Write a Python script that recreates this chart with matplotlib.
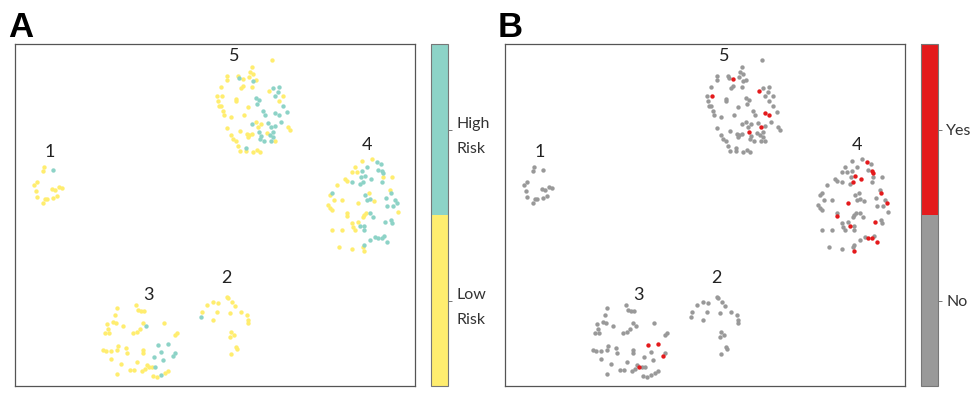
import numpy as np
import matplotlib.pyplot as plt
from matplotlib.colors import ListedColormap, Normalize
from matplotlib.cm import ScalarMappable

# t-SNE coordinates per cluster (y axis runs downward), risk group and event flag
c1_x = [44.3, 42.7, 53.3, 37.3, 34, 51.7, 55, 59.3, 62.3, 36, 37.3, 45, 47.3, 42.7, 52.7, 56.7]
c1_y = [167.3, 171, 170, 181.7, 185, 189.3, 190, 187.3, 188.3, 191, 196.7, 199, 199, 203.3, 197.7, 195.7]
c1_high = [0, 0, 1, 0, 0, 0, 0, 0, 0, 0, 0, 0, 0, 0, 0, 0]
c1_event = [0] * 16

c2_x = [226.7, 228.3, 212.7, 206.7, 218.3, 232.3, 235, 202.3, 201, 217.3, 230, 241,
        212.7, 247.3, 248.3, 247.7, 231, 234, 230, 236, 237.3, 230.7]
c2_y = [296.7, 298.3, 301.7, 305, 303.3, 302.3, 306, 311.7, 316.7, 311.7, 313.3, 311.7,
        320, 315, 320, 323.3, 332.3, 335, 337.3, 347.3, 349.3, 354]
c2_high = [0, 0, 0, 0, 0, 0, 0, 0, 1, 0, 0, 0, 0, 0, 0, 0, 0, 0, 0, 0, 0, 0]
c2_event = [0] * 22

c3_x = [117.3, 136, 137.7, 140.7, 144.3, 115, 113.3, 116, 106.7, 108.3,
        105, 109.3, 123.3, 143.3, 146, 140, 136.7, 133.3, 164, 177.3,
        175, 103.3, 106, 110.7, 118.3, 117.3, 126, 127.3, 143.3, 143.3,
        158.3, 167.7, 160.7, 175, 173.3, 154, 163.3, 110.7, 120.7, 136.7,
        146.7, 149.3, 145, 141.7, 130, 134.3, 155, 151.7, 117.3, 153.3,
        160.7, 165, 168.3, 156.7]
c3_y = [307.7, 305, 310, 310.7, 311, 315, 321.7, 323.3, 324.3, 329.3,
        332.7, 333.3, 325.7, 322.7, 325.7, 329.3, 331.7, 332.7, 322.7, 332.7,
        335, 350, 351, 350.7, 346, 350, 348.3, 352.7, 350, 352.7,
        345, 344, 351.7, 352.7, 356, 357.3, 360, 359, 364, 361.7,
        365, 367.3, 369.3, 370.7, 370, 370, 367.3, 366.7, 374, 376,
        375, 372.7, 370.7, 377.3]
c3_high = [0, 0, 0, 0, 0, 0, 0, 0, 0, 0,
           0, 0, 0, 0, 1, 0, 0, 0, 0, 0,
           0, 0, 0, 0, 0, 0, 0, 0, 0, 0,
           1, 1, 1, 1, 1, 1, 1, 0, 0, 0,
           0, 0, 0, 0, 0, 0, 1, 0, 0, 0,
           1, 0, 0, 0]
c3_event = [0, 0, 0, 0, 0, 0, 0, 0, 0, 0,
            0, 0, 0, 0, 0, 0, 0, 0, 0, 0,
            0, 0, 0, 0, 0, 0, 0, 0, 0, 0,
            1, 1, 0, 0, 1, 0, 0, 0, 0, 0,
            0, 1, 0, 0, 0, 0, 0, 0, 0, 0,
            0, 0, 0, 0]

c4_x = [361.7, 371.7, 376.7, 380.7, 378.3, 381.7, 383.3, 355, 351.7, 356.7,
        361.7, 367.3, 365, 360.7, 370.7, 363.3, 360, 382.7, 381.7, 391.7,
        345, 347.3, 351.7, 337.3, 390, 390.7, 369.3, 365, 331.7, 330,
        334, 341.7, 358.3, 367.3, 370, 374, 386, 395, 397.3, 387.3,
        392.7, 328.3, 330, 331.7, 398.3, 346.7, 346.7, 366, 364, 362.7,
        370, 373.3, 358.3, 351.7, 352.7, 355, 360, 364, 364, 385,
        390.7, 391.7, 331.7, 342.3, 375, 378.3, 381.7, 384, 370, 386.7,
        364, 362.7, 339.3, 351.7, 364]
c4_y = [160.7, 159.3, 162.3, 164.3, 170, 170.7, 172.7, 167.3, 171.7, 172.3,
        170.7, 167.3, 175.7, 176.7, 179, 182.3, 184, 177.3, 181.7, 176.7,
        179.3, 180.7, 181.7, 185, 190, 192.7, 193.3, 195, 192.7, 195,
        200, 200, 202.7, 200, 199.3, 200.7, 198.3, 200, 202.7, 206,
        206, 205, 208.3, 210, 211.7, 212.7, 216, 212.7, 215, 217.3,
        213.3, 217.3, 221.7, 223.3, 227.3, 230, 226, 225.7, 230, 221.7,
        220, 222.7, 230, 230, 237.3, 238.3, 238.3, 236, 240, 241.7,
        245, 247.3, 247.3, 249.3, 250.7]
c4_high = [0, 0, 1, 1, 1, 1, 1, 0, 0, 0,
           1, 1, 1, 1, 1, 1, 1, 0, 1, 0,
           0, 0, 1, 0, 0, 1, 0, 1, 1, 0,
           0, 0, 0, 1, 1, 0, 1, 1, 1, 1,
           1, 0, 0, 0, 0, 0, 0, 0, 0, 0,
           1, 1, 0, 0, 0, 0, 1, 1, 1, 1,
           1, 1, 0, 0, 1, 1, 1, 1, 1, 1,
           1, 0, 0, 0, 0]
c4_event = [0, 0, 1, 0, 0, 1, 1, 0, 0, 0,
            0, 0, 1, 0, 1, 1, 0, 0, 0, 0,
            0, 0, 0, 0, 0, 1, 0, 0, 0, 0,
            0, 0, 1, 0, 0, 0, 0, 0, 1, 0,
            0, 0, 0, 0, 0, 0, 1, 0, 0, 0,
            0, 0, 0, 0, 0, 0, 1, 0, 0, 1,
            0, 0, 0, 0, 0, 1, 1, 0, 0, 1,
            0, 0, 0, 0, 1]

c5_x = [271.7, 252.3, 226.7, 227.3, 237.7, 239.3, 250, 253.3, 249.3, 253.3,
        256, 252.3, 243.3, 241, 221, 217.3, 221.7, 235.7, 236, 218.3,
        219, 221.3, 222.7, 224, 230.7, 244, 248.3, 256, 259.3, 257.3,
        269.3, 273.3, 279.3, 277.7, 275, 283.3, 279, 283.3, 262.7, 265,
        275, 279.3, 287.3, 251.7, 256, 261, 258.3, 267.7, 271, 275,
        280.7, 288.3, 290, 227.3, 230.7, 232.7, 235.7, 240, 246.7, 249.3,
        248.3, 251.7, 259.3, 260.7, 260, 264, 266.7, 270, 272.7, 273.3,
        270.7, 275, 238.3, 240, 245.7, 245.7, 253.3, 257.3, 260, 243]
c5_y = [60, 66.7, 76.3, 79.7, 76.3, 78.3, 72.3, 74, 77.3, 80.7,
        79.7, 86.7, 85.7, 88, 87.3, 95.7, 95.7, 99, 101.3, 100.7,
        106.3, 106, 110.7, 114.7, 116.7, 114.7, 106.7, 98, 100, 104,
        90.7, 88.3, 86.7, 91.7, 96.3, 95.7, 100.7, 105.7, 110.7, 114.7,
        113.3, 114.7, 112.3, 124, 122.3, 124, 127.3, 123.3, 126.7, 125.7,
        122.3, 126.7, 130, 128, 134.7, 139, 140.7, 131.3, 134, 134.7,
        136.7, 134, 132.3, 135.7, 139, 140.7, 133.3, 134.7, 132.3, 137.3,
        140.7, 140.7, 145.7, 150.7, 148, 151.3, 152.3, 150, 152.3, 79]
c5_high = [0, 0, 0, 0, 0, 1, 0, 0, 0, 1,
           0, 0, 0, 0, 0, 0, 0, 0, 0, 0,
           0, 0, 0, 0, 0, 0, 0, 1, 1, 1,
           0, 1, 1, 1, 1, 0, 0, 1, 1, 1,
           1, 1, 1, 1, 0, 0, 0, 1, 1, 1,
           1, 0, 0, 0, 0, 0, 0, 0, 0, 0,
           0, 0, 1, 1, 1, 1, 0, 1, 1, 1,
           1, 0, 0, 0, 1, 0, 0, 0, 0, 0]
c5_event = [0, 0, 0, 0, 0, 0, 0, 0, 0, 0,
            0, 0, 0, 0, 0, 0, 1, 0, 0, 0,
            0, 0, 0, 0, 0, 0, 0, 0, 0, 0,
            1, 0, 0, 0, 0, 0, 0, 0, 0, 0,
            1, 1, 0, 0, 0, 0, 0, 0, 1, 0,
            0, 0, 0, 0, 0, 0, 0, 0, 0, 0,
            0, 0, 1, 0, 0, 0, 0, 0, 0, 0,
            0, 0, 0, 0, 0, 0, 0, 0, 0, 1]

cluster_names = ["1", "2", "3", "4", "5"]
label_x = [50, 226.5, 148, 367, 234]
label_y = [151.5, 278, 295, 145, 55.5]

x = np.array(c1_x + c2_x + c3_x + c4_x + c5_x)
y = np.array(c1_y + c2_y + c3_y + c4_y + c5_y)
high = np.array(c1_high + c2_high + c3_high + c4_high + c5_high)
event = np.array(c1_event + c2_event + c3_event + c4_event + c5_event)

YELLOW = "#ffed6f"
TEAL = "#8dd3c7"
RED = "#e41a1c"
GREY = "#999999"

plt.rcParams["font.family"] = ["Lato", "DejaVu Sans"]

fig = plt.figure(figsize=(9.71, 3.94), dpi=100)
W, H = 971, 394


def box(left, top, width, height):
    return [left / W, (H - top - height) / H, width / W, height / H]


def scatter_panel(ax, flag, c0, c1):
    ax.scatter(x[flag == 0], y[flag == 0], s=10, c=c0, linewidths=0)
    ax.scatter(x[flag == 1], y[flag == 1], s=10, c=c1, linewidths=0)
    for name, lx, ly in zip(cluster_names, label_x, label_y):
        ax.text(lx, ly, name, ha="center", va="center", fontsize=13, color="#222222")
    ax.set_xlim(15, 415)
    ax.set_ylim(386, 44)
    ax.set_xticks([])
    ax.set_yticks([])
    for sp in ax.spines.values():
        sp.set_color("#555555")
        sp.set_linewidth(0.9)


def colorbar(cax, c0, c1, labels):
    sm = ScalarMappable(norm=Normalize(0, 1), cmap=ListedColormap([c0, c1]))
    cb = fig.colorbar(sm, cax=cax, ticks=[0.25, 0.75])
    cb.ax.set_yticklabels(labels, fontsize=11.5, color="#333333", linespacing=2.0)
    cb.ax.tick_params(length=3, width=0.7, color="#777777", pad=3)
    cb.outline.set_edgecolor("#777777")
    cb.outline.set_linewidth(0.8)


axA = fig.add_axes(box(15, 44, 400, 342))
scatter_panel(axA, high, YELLOW, TEAL)
colorbar(fig.add_axes(box(431, 44, 17, 342)), YELLOW, TEAL, ["Low\nRisk", "High\nRisk"])

axB = fig.add_axes(box(505, 44, 400, 342))
scatter_panel(axB, event, GREY, RED)
colorbar(fig.add_axes(box(921, 44, 17, 342)), GREY, RED, ["No", "Yes"])

for lab, px in [("A", 8), ("B", 498)]:
    fig.text(px / W, (H - 37) / H, lab, fontsize=25, fontweight="bold",
             family=["Liberation Sans Narrow", "Liberation Sans", "DejaVu Sans"],
             ha="left", va="baseline")

fig.savefig("out.png", dpi=100)
